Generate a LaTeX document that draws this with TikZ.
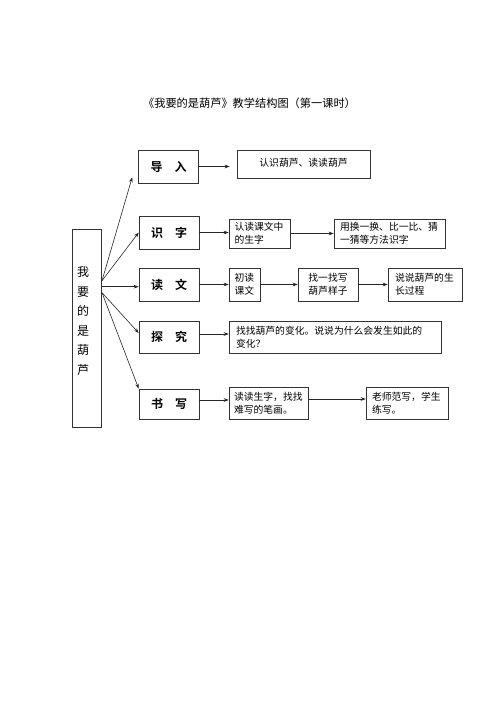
\documentclass[tikz,border=0pt]{standalone}
\usepackage{fontspec}
\setmainfont{Noto Sans CJK SC}[BoldFont={Noto Sans CJK SC Bold}]
\usetikzlibrary{arrows.meta,calc}
\begin{document}
\begin{tikzpicture}[x=1pt,y=-1pt,
  box/.style={draw=black!80,line width=0.6pt,inner sep=0pt,minimum width=60pt,font=\fontsize{12}{14}\selectfont\bfseries},
  tb/.style={draw=black!80,line width=0.6pt,inner ysep=0pt,align=left,font=\fontsize{9.8}{13}\selectfont},
  arr/.style={draw=black!85,line width=0.6pt,-{Stealth[length=5pt,width=3.6pt]}}]
\useasboundingbox (0,0) rectangle (500,708);
\node[font=\fontsize{11.2}{13}\selectfont] (title) at (249.5,103) {《我要的是葫芦》教学结构图（第一课时）};
% left box
\node[draw=black!80,line width=0.6pt,minimum width=29.7pt,minimum height=198pt,inner sep=0pt] (L) at (86.85,328) {};
\node[align=center,inner sep=0pt,font=\fontsize{12}{19.6}\selectfont] (Lt) at (83,321) {我\\要\\的\\是\\葫\\芦};
% row boxes
\node[box,minimum height=33pt] (A) at (168.5,166.5) {导\hspace{1em}入};
\node[box,minimum height=33pt] (B) at (169,232.5) {识\hspace{1em}字};
\node[box,minimum height=33pt] (C) at (169,284.5) {读\hspace{1em}文};
\node[box,minimum height=32pt] (D) at (169,337) {探\hspace{1em}究};
\node[box,minimum height=30pt] (E) at (169,404) {书\hspace{1em}写};
% text boxes
\node[tb,align=center,minimum width=133pt,minimum height=28pt,inner xsep=0pt,text depth=3pt] (A2) at (303.5,164) {认识葫芦、读读葫芦};
\node[tb,text width=50pt,inner xsep=5.5pt,minimum height=29pt] (B2) at (259.5,233.5) {认读课文中\\的生字};
\node[tb,text width=99pt,inner xsep=6pt,minimum height=29pt] (B3) at (389.5,233.5) {用换一换、比一比、猜\\一猜等方法识字};
\node[tb,text width=20pt,inner xsep=5.5pt,minimum height=33pt] (C2) at (244.5,284.5) {初读\\课文};
\node[tb,align=center,minimum width=60pt,inner xsep=0pt,minimum height=33pt] (C3) at (328,284.5) {找一找写\\葫芦样子};
\node[tb,text width=60pt,inner xsep=7pt,minimum height=33pt] (C4) at (425,284.5) {说说葫芦的生\\长过程};
\node[tb,text width=198pt,inner xsep=7pt,minimum height=32pt] (D2) at (335,337) {找找葫芦的变化。说说为什么会发生如此的\\变化？};
\node[tb,text width=69pt,inner xsep=5pt,minimum height=32pt] (E2) at (268.5,403) {读读生字，找找\\难写的笔画。};
\node[tb,text width=70pt,inner xsep=6pt,minimum height=32pt] (E3) at (407,403) {老师范写，学生\\练写。};
% fan
\coordinate (Lu) at ($(L.north east)+(0,52)$);
\coordinate (Lm) at ($(L.north east)+(0,58)$);
\coordinate (Ld) at ($(L.north east)+(0,64)$);
\coordinate (At) at ($(A.south west)+(-6,-6)$);
\coordinate (Dt) at ($(D.west)+(0,-4)$);
\draw[arr] (Lu) -- (At);
\draw[arr] (Lu) -- (B.west);
\draw[arr] (Lm) -- (Lm -| C.west);
\draw[arr] (Ld) -- (Dt);
\draw[arr] (Ld) -- (E.north west);
% row arrows
\coordinate (d1) at ($(D.east)+(0,-3)$);
\coordinate (e1) at ($(E.east)+(0,-4)$);
\coordinate (e2) at ($(E2.east)+(0,-4)$);
\draw[arr,shorten >=7pt] (A.east) -- (A.east -| A2.west);
\draw[arr] (B.east) -- (B.east -| B2.west);
\draw[arr] (B2.east) -- (B2.east -| B3.west);
\draw[arr] (C.east) -- (C.east -| C2.west);
\draw[arr] (C2.east) -- (C2.east -| C3.west);
\draw[arr] (C3.east) -- (C3.east -| C4.west);
\draw[arr] (d1) -- (d1 -| D2.west);
\draw[arr] (e1) -- (e1 -| E2.west);
\draw[arr] (e2) -- (e2 -| E3.west);
\end{tikzpicture}
\end{document}
